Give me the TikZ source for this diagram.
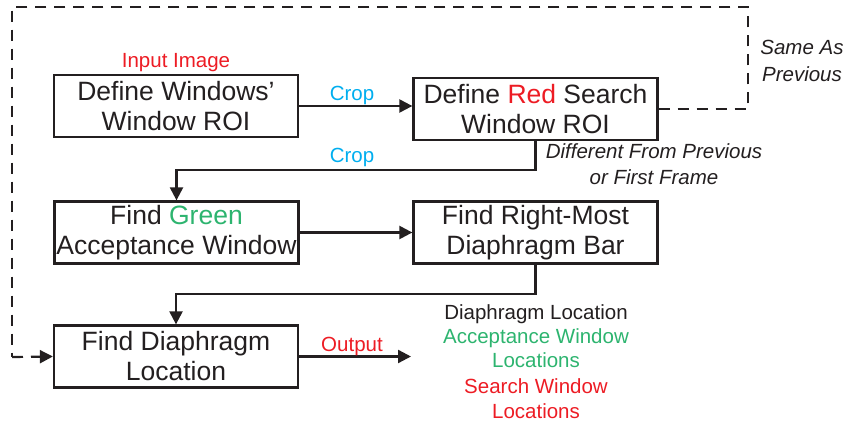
\documentclass[tikz,border=0pt]{standalone}
\usepackage{fontspec}
\setmainfont{Liberation Sans}
\usetikzlibrary{arrows.meta}
\definecolor{ink}{HTML}{231F20}
\definecolor{lblred}{HTML}{ED1C24}
\definecolor{lblcyan}{HTML}{00AEEF}
\definecolor{lblgreen}{HTML}{2DB46F}
\begin{document}
\begin{tikzpicture}[x=1pt,y=-1pt,
  stage/.style={draw=ink,line width=2.3pt,minimum width=244pt,minimum height=62pt,
    inner sep=0pt,align=center,text=ink,font=\fontsize{26.5}{30}\selectfont},
  lbl/.style={anchor=base,inner sep=0pt,font=\fontsize{20.5}{24}\selectfont},
  note/.style={anchor=base,inner sep=0pt,text=ink,font=\fontsize{20.5}{24}\selectfont\itshape},
  flow/.style={draw=ink,line width=2.3pt,-{Triangle[length=13pt,width=13pt]}},
  loop/.style={draw=ink,line width=2.2pt,dash pattern=on 11pt off 8pt}]
\useasboundingbox (0,0) rectangle (848,425);

% processing stages
\node[stage] (roi)    at (176,106)   {Define Windows'\\Window ROI};
\node[stage] (search) at (535.5,109) {Define \textcolor{lblred}{Red} Search\\Window ROI};
\node[stage] (accept) at (176.5,232.5) {Find \textcolor{lblgreen}{Green}\\Acceptance Window};
\node[stage] (bar)    at (535.5,232.5) {Find Right-Most\\Diaphragm Bar};
\node[stage] (locate) at (176,356.5) {Find Diaphragm\\Location};

% helper points for routed connectors
\coordinate (bend1) at (176.5,170);
\coordinate (bend2) at (176,294);
\coordinate (loopR) at (748,7);
\coordinate (loopL) at (12,7);
\coordinate (loopB) at (12,357);
\coordinate (out)   at (411,357);

% solid flow
\draw[flow] (roi.east) -- (roi.east -| search.west);
\draw[flow] (search.south) |- (bend1) -- (accept.north);
\draw[flow] (accept.east) -- (accept.east -| bar.west);
\draw[flow] (bar.south) |- (bend2) -- (locate.north);
\draw[flow] (locate.east) -- (locate.east -| out);

% feedback loop
\draw[loop] (search.east) -| (loopR) -- (loopL) -- (loopB);
\draw[loop,-{Triangle[length=13pt,width=13pt]}] (loopB) -- (locate.west);

% labels
\node[lbl,text=lblred]  (inp)   at (176,68)  {Input Image};
\node[lbl,text=lblcyan] (crop1) at (352,101) {Crop};
\node[lbl,text=lblcyan] (crop2) at (352,162) {Crop};
\node[lbl,text=lblred]  (outl)  at (352,351) {Output};

\node[note] (same1) at (802,55)  {Same As};
\node[note] (same2) at (802,82)  {Previous};
\node[note] (diff1) at (654,158) {Different From Previous};
\node[note] (diff2) at (654,184) {or First Frame};

\node[lbl,text=ink]       (r1) at (536,319) {Diaphragm Location};
\node[lbl,text=lblgreen]  (r2) at (536,343) {Acceptance Window};
\node[lbl,text=lblgreen]  (r3) at (536,367) {Locations};
\node[lbl,text=lblred]    (r4) at (536,393) {Search Window};
\node[lbl,text=lblred]    (r5) at (536,418) {Locations};
\end{tikzpicture}
\end{document}
